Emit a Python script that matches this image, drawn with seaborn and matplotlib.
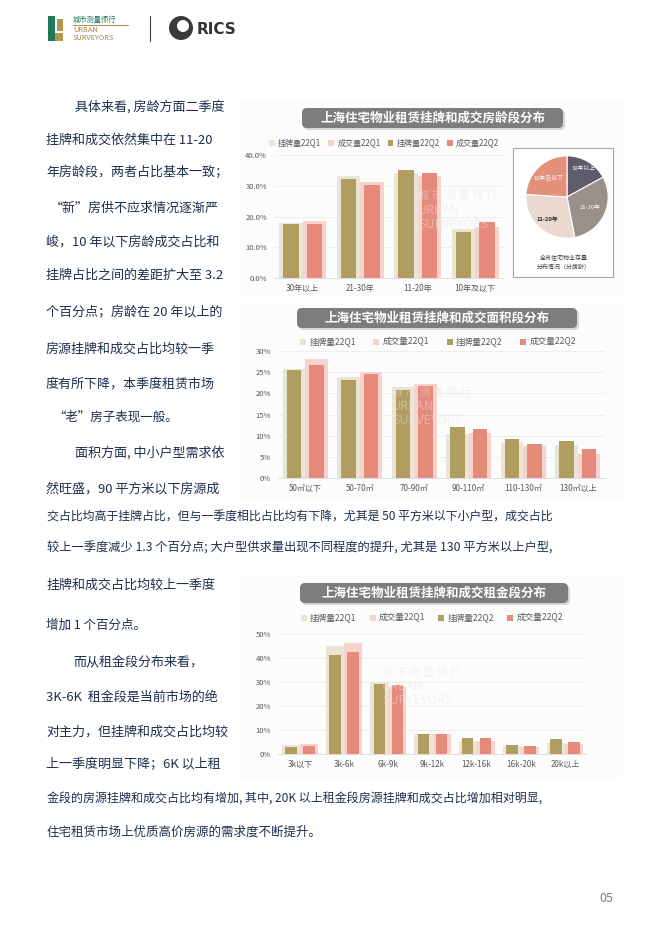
import numpy as np
import pandas as pd
import matplotlib.pyplot as plt
import seaborn as sns
from matplotlib.patches import FancyBboxPatch, Patch, Rectangle, Circle

sns.set_theme(style='white')
plt.rcParams['font.family'] = ['Noto Sans CJK SC', 'DejaVu Sans']

# 图例名称与颜色
series_names = ['挂牌量22Q1', '成交量22Q1', '挂牌量22Q2', '成交量22Q2']
bar_colors = ['#ebe5d6', '#f6d4cd', '#b29d60', '#e68b7b']

# 房龄段 (%)
age_cats = ['30年以上', '21-30年', '11-20年', '10年及以下']
age_list_q1 = [17.8, 33.2, 34.1, 16.0]
age_deal_q1 = [18.4, 31.1, 33.3, 16.5]
age_list_q2 = [17.6, 32.2, 35.0, 14.8]
age_deal_q2 = [17.5, 30.3, 34.2, 18.1]

# 全市住宅物业存量 (分房龄)
pie_labels = ['30年以上', '21-30年', '11-20年', '10年及以下']
pie_shares = [17, 30, 29, 24]
pie_colors = ['#5f5b6b', '#9b8f8a', '#ead9ce', '#e3907c']
pie_text_colors = ['white', 'white', '#262626', 'white']
pie_label_dist = [0.8, 0.62, 0.72, 0.66]

# 面积段 (%)
area_cats = ['50㎡以下', '50-70㎡', '70-90㎡', '90-110㎡', '110-130㎡', '130㎡以上']
area_list_q1 = [25.8, 23.8, 21.5, 10.5, 8.5, 7.7]
area_deal_q1 = [28.0, 25.0, 22.3, 10.6, 7.6, 5.7]
area_list_q2 = [25.4, 23.1, 20.9, 12.0, 9.1, 8.7]
area_deal_q2 = [26.7, 24.6, 21.7, 11.5, 8.1, 6.8]

# 租金段 (%)
rent_cats = ['3k以下', '3k-6k', '6k-9k', '9k-12k', '12k-16k', '16k-20k', '20k以上']
rent_list_q1 = [3.6, 44.8, 30.2, 8.5, 5.4, 3.4, 4.5]
rent_deal_q1 = [4.0, 46.1, 28.1, 8.3, 5.3, 2.9, 4.2]
rent_list_q2 = [2.8, 41.2, 29.3, 8.3, 6.8, 3.6, 6.1]
rent_deal_q2 = [3.4, 42.7, 28.9, 8.4, 6.6, 3.4, 5.0]

# 正文: (左, 中线y, 文字, 右端 或 None)
body_lines = [
    (75, 107, '具体来看, 房龄方面二季度', 230),
    (46, 140, '挂牌和成交依然集中在 11-20', 230),
    (46, 173, '年房龄段，两者占比基本一致；', 232),
    (50, 208, '“新”房供不应求情况逐渐严', 230),
    (46, 242, '峻，10 年以下房龄成交占比和', 230),
    (46, 275, '挂牌占比之间的差距扩大至 3.2', 230),
    (46, 313, '个百分点；房龄在 20 年以上的', 230),
    (46, 349, '房源挂牌和成交占比均较一季', 230),
    (46, 384, '度有所下降，本季度租赁市场', 230),
    (53, 417, '“老”房子表现一般。', None),
    (75, 453, '面积方面, 中小户型需求依', 230),
    (46, 489, '然旺盛，90 平方米以下房源成', 224),
    (47, 517, '交占比均高于挂牌占比，但与一季度相比占比均有下降，尤其是 50 平方米以下小户型，成交占比', 550),
    (47, 548, '较上一季度减少 1.3 个百分点; 大户型供求量出现不同程度的提升, 尤其是 130 平方米以上户型,', 552),
    (46, 585, '挂牌和成交占比均较上一季度', 230),
    (46, 625, '增加 1 个百分点。', None),
    (73, 662, '而从租金段分布来看，', 225),
    (46, 697, '3K-6K  租金段是当前市场的绝', 230),
    (46, 732, '对主力，但挂牌和成交占比均较', 230),
    (46, 765, '上一季度明显下降；6K 以上租', 226),
    (47, 798, '金段的房源挂牌和成交占比均有增加, 其中, 20K 以上租金段房源挂牌和成交占比增加相对明显,', 542),
    (47, 832, '住宅租赁市场上优质高价房源的需求度不断提升。', None),
]

W, H = 662, 936
fig = plt.figure(figsize=(W / 100, H / 100), dpi=100)
fig.patch.set_facecolor('white')
renderer = fig.canvas.get_renderer()


def fx(x):
    return x / W


def fy(y):
    return 1 - y / H


def box(x0, y0, x1, y1, **kw):
    p = FancyBboxPatch((x0 / 100, (H - y1) / 100), (x1 - x0) / 100, (y1 - y0) / 100,
                       transform=fig.dpi_scale_trans, **kw)
    fig.patches.append(p)


def rect(x0, y0, x1, y1, **kw):
    p = Rectangle((x0 / 100, (H - y1) / 100), (x1 - x0) / 100, (y1 - y0) / 100,
                  transform=fig.dpi_scale_trans, **kw)
    fig.patches.append(p)


def title_box(x0, y0, x1, y1, text):
    box(x0 + 2, y0 + 2, x1 + 2, y1 + 2, boxstyle='round,pad=0,rounding_size=0.05',
        fc='#d4d4d4', ec='none')
    box(x0, y0, x1, y1, boxstyle='round,pad=0,rounding_size=0.05', fc='#7d7d7d', ec='none')
    fig.text(fx((x0 + x1) / 2), fy((y0 + y1) / 2), text, color='white', fontsize=9,
             fontweight='bold', ha='center', va='center')


def watermark(x, y):
    kw = dict(color='#e6e6e6', alpha=0.45, ha='left', va='center', zorder=10)
    fig.text(fx(x), fy(y), '城 市 测 量 师 行', fontsize=8, **kw)
    fig.text(fx(x), fy(y + 15), 'URBAN', fontsize=9, **kw)
    fig.text(fx(x), fy(y + 29), 'SURVEYORS', fontsize=9, **kw)


def bar_chart(rect_px, cats, l1, d1, l2, d2, ymax, step, fmt, leg_cx, leg_y, leg_fs, colsp):
    left, top, right, bottom = rect_px
    ax = fig.add_axes([fx(left), fy(bottom), (right - left) / W, (bottom - top) / H])
    n = len(cats)
    q1 = pd.DataFrame({'类别': cats * 2, '类型': ['挂牌'] * n + ['成交'] * n, '占比': l1 + d1})
    q2 = pd.DataFrame({'类别': cats * 2, '类型': ['挂牌'] * n + ['成交'] * n, '占比': l2 + d2})
    sns.barplot(data=q1, x='类别', y='占比', hue='类型', hue_order=['挂牌', '成交'],
                palette=bar_colors[:2], width=0.82, gap=0, saturation=1, errorbar=None,
                legend=False, ax=ax, zorder=2, linewidth=0, edgecolor='none')
    sns.barplot(data=q2, x='类别', y='占比', hue='类型', hue_order=['挂牌', '成交'],
                palette=bar_colors[2:], width=0.82, gap=0.36, saturation=1, errorbar=None,
                legend=False, ax=ax, zorder=3, linewidth=0, edgecolor='none')
    ax.set_xlim(-0.5, n - 0.5)
    ax.set_ylim(0, ymax)
    ticks = np.arange(0, ymax + step / 2, step)
    ax.set_yticks(ticks)
    ax.set_yticklabels([fmt.format(t) for t in ticks])
    ax.set_xlabel('')
    ax.set_ylabel('')
    ax.set_axisbelow(True)
    ax.yaxis.grid(True, color='#ececec', linewidth=0.6)
    for s in ['top', 'right', 'left']:
        ax.spines[s].set_visible(False)
    ax.spines['bottom'].set_color('#d9d9d9')
    ax.spines['bottom'].set_linewidth(0.6)
    ax.tick_params(axis='both', length=0, labelsize=5.8, colors='#595959')
    ax.tick_params(axis='y', pad=5, labelsize=5.5)
    ax.tick_params(axis='x', pad=4)
    ax.set_facecolor('none')
    handles = [Patch(facecolor=c, edgecolor='none') for c in bar_colors]
    fig.legend(handles, series_names, loc='center', bbox_to_anchor=(fx(leg_cx), fy(leg_y)),
               ncol=4, frameon=False, fontsize=leg_fs, handlelength=0.7, handleheight=0.7,
               handletextpad=0.4, columnspacing=colsp, labelcolor='#595959')
    return ax


# 图表区浅底色
rect(240, 100, 623, 297, fc='#fdfcfc', ec='none', zorder=-5)
rect(240, 301, 623, 500, fc='#fdfcfc', ec='none', zorder=-5)
rect(240, 576, 623, 778, fc='#fdfcfc', ec='none', zorder=-5)

# 页眉
rect(48, 16, 55, 41, fc='#1e7a55', ec='none')
rect(55, 33, 63, 41, fc='#b3974f', ec='none')
rect(57, 19, 63, 31, fc='#b3974f', ec='none')
fig.text(fx(73), fy(19.5), '城市测量师行', color='#1e7a55', fontsize=5.2, ha='left', va='center')
fig.lines.append(plt.Line2D([fx(73), fx(128)], [fy(24.5), fy(24.5)], transform=fig.transFigure,
                            color='#b3974f', linewidth=0.8))
fig.text(fx(73), fy(29.5), 'URBAN', color='#a48a4a', fontsize=5.3, ha='left', va='center')
fig.text(fx(73), fy(37.5), 'SURVEYORS', color='#a48a4a', fontsize=5.3, ha='left', va='center')
fig.lines.append(plt.Line2D([fx(150), fx(150)], [fy(16), fy(41)], transform=fig.transFigure,
                            color='#404040', linewidth=0.8))
fig.patches.append(Circle((181 / 100, (H - 28) / 100), 12 / 100, transform=fig.dpi_scale_trans,
                          fc='#3a3a3a', ec='none'))
fig.patches.append(Circle((183 / 100, (H - 26) / 100), 6 / 100, transform=fig.dpi_scale_trans,
                          fc='white', ec='none'))
fig.text(fx(197), fy(29), 'RICS', color='#333333', fontsize=11, fontweight='bold',
         ha='left', va='center', family=['DejaVu Sans'])

# 正文 (按参考的行宽微调字号)
base_fs = 9.0
for x, y, t, right in body_lines:
    txt = fig.text(fx(x), fy(y), t, color='#1d2f4f', fontsize=base_fs, ha='left', va='center')
    if right is not None:
        w = txt.get_window_extent(renderer).width
        fs = base_fs * (right - x) / w
        txt.set_fontsize(min(max(fs, 8.6), 9.4))

# 房龄段
title_box(302, 108, 563, 128, '上海住宅物业租赁挂牌和成交房龄段分布')
bar_chart((274, 155, 504, 278), age_cats, age_list_q1, age_deal_q1, age_list_q2, age_deal_q2,
          40, 10, '{:.1f}%', 384, 143, 5.8, 0.9)
watermark(418, 195)

# 饼图
rect(513, 148, 613, 277, fc='white', ec='#a6a6a6', lw=0.8, zorder=-1)
pax = fig.add_axes([fx(525), fy(239), 84 / W, 84 / H])
wedges, texts = pax.pie(pie_shares, labels=pie_labels, colors=pie_colors, startangle=90,
                        counterclock=False, labeldistance=0.6,
                        wedgeprops=dict(edgecolor='white', linewidth=0.8),
                        textprops=dict(fontsize=4.2, ha='center', va='center'))
for wdg, t, c, d in zip(wedges, texts, pie_text_colors, pie_label_dist):
    ang = np.deg2rad((wdg.theta1 + wdg.theta2) / 2)
    t.set_position((d * np.cos(ang), d * np.sin(ang)))
    t.set_color(c)
texts[2].set_fontweight('bold')
pax.set_xlim(-1.02, 1.02)
pax.set_ylim(-1.02, 1.02)
pax.set_aspect('equal')
fig.text(fx(564), fy(258), '全市住宅物业存量', color='#404040', fontsize=4.3, ha='center', va='center')
fig.text(fx(564), fy(267), '分布情况（分房龄）', color='#404040', fontsize=4.3, ha='center', va='center')

# 面积段
title_box(297, 308, 577, 328, '上海住宅物业租赁挂牌和成交面积段分布')
bar_chart((278, 351, 605, 478), area_cats, area_list_q1, area_deal_q1, area_list_q2, area_deal_q2,
          30, 5, '{:.0f}%', 438, 342, 6.2, 2.0)
watermark(392, 392)

# 租金段
title_box(300, 583, 568, 603, '上海住宅物业租赁挂牌和成交租金段分布')
bar_chart((278, 634, 587, 754), rent_cats, rent_list_q1, rent_deal_q1, rent_list_q2, rent_deal_q2,
          50, 10, '{:.0f}%', 432, 618, 6.2, 1.5)
watermark(382, 672)

# 页码
fig.text(fx(606), fy(898), '05', color='#7f7f7f', fontsize=9, ha='center', va='center')

fig.savefig('out.png', dpi=100, facecolor='white')
